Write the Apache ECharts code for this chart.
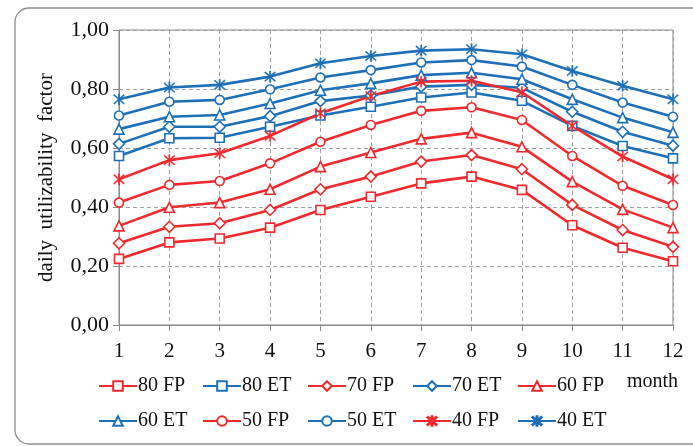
<!DOCTYPE html>
<html><head><meta charset="utf-8">
<script src="https://cdn.jsdelivr.net/npm/echarts@6/dist/echarts.min.js"></script>
<style>html,body{margin:0;padding:0;background:#fff}#c{width:693px;height:446px}</style>
</head><body><div id="c"></div>
<script>
var months = ['1','2','3','4','5','6','7','8','9','10','11','12'];
var yTicks = [0, 0.2, 0.4, 0.6, 0.8, 1.0];
var seriesNames = ['80 FP','80 ET','70 FP','70 ET','60 FP','60 ET','50 FP','50 ET','40 FP','40 ET'];
var fp80 = [0.224,0.280,0.293,0.330,0.390,0.435,0.480,0.503,0.458,0.338,0.262,0.216];
var et80 = [0.573,0.633,0.635,0.672,0.710,0.740,0.771,0.788,0.760,0.675,0.607,0.565];
var fp70 = [0.277,0.333,0.345,0.390,0.460,0.503,0.554,0.576,0.528,0.407,0.322,0.265];
var et70 = [0.614,0.672,0.672,0.708,0.759,0.778,0.808,0.814,0.804,0.723,0.655,0.608];
var fp60 = [0.336,0.399,0.415,0.460,0.537,0.585,0.631,0.652,0.604,0.486,0.392,0.330];
var et60 = [0.664,0.706,0.712,0.751,0.796,0.819,0.847,0.855,0.833,0.765,0.703,0.653];
var fp50 = [0.415,0.475,0.488,0.548,0.621,0.678,0.726,0.738,0.695,0.573,0.472,0.407];
var et50 = [0.710,0.757,0.763,0.799,0.839,0.864,0.890,0.898,0.876,0.814,0.754,0.706];
var fp40 = [0.494,0.559,0.582,0.641,0.718,0.776,0.825,0.828,0.789,0.675,0.571,0.494];
var et40 = [0.765,0.805,0.814,0.842,0.887,0.912,0.930,0.935,0.918,0.861,0.811,0.765];

var RED = '#ee2a2e', BLUE = '#1d70b7';
var FONT = '"Liberation Serif","Times New Roman",serif';
var ASTER = 'path://M9.1 0 L10.9 0 L10.9 20 L9.1 20 Z M1.3 2.6 L2.6 1.3 L18.7 17.4 L17.4 18.7 Z M17.4 1.3 L18.7 2.6 L2.6 18.7 L1.3 17.4 Z';

var defs = [
  {name:'80 FP', data:fp80, color:RED,  sym:'rect', size:9},
  {name:'80 ET', data:et80, color:BLUE, sym:'rect', size:9},
  {name:'70 FP', data:fp70, color:RED,  sym:'diamond', size:11},
  {name:'70 ET', data:et70, color:BLUE, sym:'diamond', size:11},
  {name:'60 FP', data:fp60, color:RED,  sym:'triangle', size:10},
  {name:'60 ET', data:et60, color:BLUE, sym:'triangle', size:10},
  {name:'50 FP', data:fp50, color:RED,  sym:'circle', size:9},
  {name:'50 ET', data:et50, color:BLUE, sym:'circle', size:9},
  {name:'40 FP', data:fp40, color:RED,  sym:ASTER, size:11, filled:true},
  {name:'40 ET', data:et40, color:BLUE, sym:ASTER, size:11, filled:true}
];

var series = defs.map(function(d){
  return {
    name: d.name, type:'line', data: d.data,
    symbol: d.sym, symbolSize: d.size, showAllSymbol: true,
    lineStyle: {color: d.color, width: 2.6},
    itemStyle: {color: d.filled ? d.color : '#fff', borderColor: d.color, borderWidth: d.filled ? 0.6 : 1.6},
    emphasis: {disabled: true}, animation: false
  };
});

var legendPos = [[98,376],[202,376],[307,376],[412,376],[517,376],[98,411],[202,411],[307,411],[412,411],[517,411]];
var legends = seriesNames.map(function(n, i){
  return {
    data:[n], left: legendPos[i][0], top: legendPos[i][1], padding: 0,
    itemWidth: 38, itemHeight: 12, itemGap: 0,
    textStyle: {fontFamily: FONT, fontSize: 20, color:'#111', padding:[0,0,0,-4]},
    selectedMode: false
  };
});

var option = {
  animation: false,
  backgroundColor: '#fff',
  grid: {left:119, right:20, top:30, bottom:121, show:true, borderColor:'#8a8a8a', borderWidth:1},
  legend: legends,
  xAxis: {
    type:'category', data: months, boundaryGap:false,
    axisLine:{lineStyle:{color:'#8a8a8a', width:1}},
    axisTick:{show:true, length:6, lineStyle:{color:'#8a8a8a'}},
    axisLabel:{fontFamily:FONT, fontSize:21, color:'#111', margin:16},
    splitLine:{show:true, lineStyle:{color:'#a0a0a0', type:[4,3], width:1}}
  },
  yAxis: {
    type:'value', min: yTicks[0], max: yTicks[yTicks.length-1], interval: 0.2,
    axisLine:{show:true, lineStyle:{color:'#8a8a8a', width:1}},
    axisTick:{show:true, length:6, lineStyle:{color:'#8a8a8a'}},
    axisLabel:{fontFamily:FONT, fontSize:22, color:'#111', margin:10,
      formatter:function(v){return v.toFixed(2).replace('.', ',');}},
    splitLine:{show:true, lineStyle:{color:'#a0a0a0', type:[4,3], width:1}},
    name:'daily  utilizability  factor', nameLocation:'middle', nameGap:62,
    nameTextStyle:{fontFamily:FONT, fontSize:21, color:'#111'}
  },
  graphic: [
    {type:'rect', shape:{x:15, y:8, width:700, height:436, r:14}, style:{fill:'none', stroke:'#8c8c8c', lineWidth:1.3}, z:-1},
    {type:'text', left:627, top:372, style:{text:'month', font:'20px "Liberation Serif", serif', fill:'#111'}}
  ],
  series: series
};
var chart = echarts.init(document.getElementById('c'), null, {renderer:'canvas'});
chart.setOption(option);
</script></body></html>
